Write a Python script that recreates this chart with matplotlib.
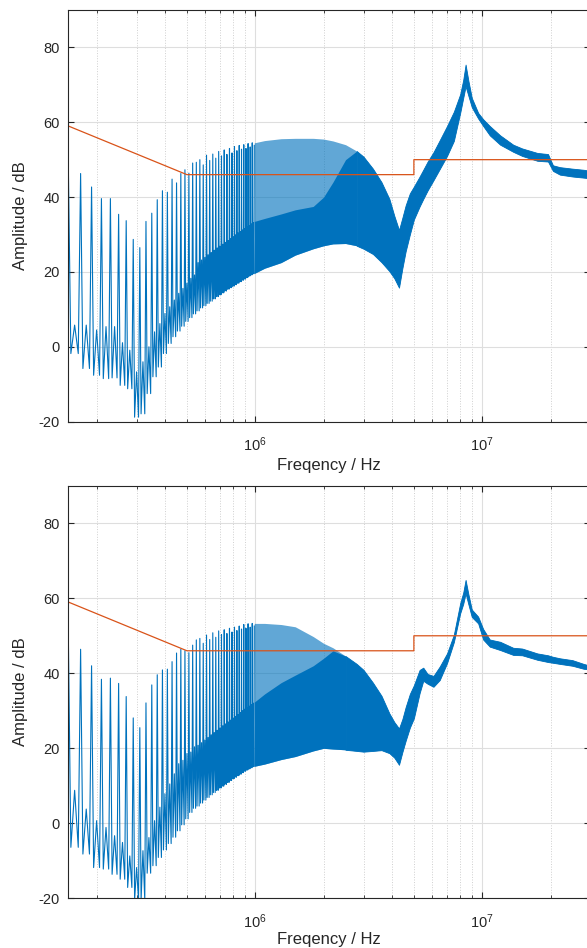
import numpy as np
import matplotlib
matplotlib.use('Agg')
import matplotlib.pyplot as plt
from matplotlib.ticker import LogLocator, NullFormatter, LogFormatterMathtext

plt.rcParams['font.family'] = ['Liberation Sans', 'DejaVu Sans']
plt.rcParams['mathtext.default'] = 'regular'
plt.rcParams['axes.unicode_minus'] = False

# harmonic spikes below 1 MHz (kHz / dB)
spike_khz = [150, 170, 190, 210, 230, 250, 270, 290, 310, 330, 350,
             370, 390, 410, 430, 450, 470, 490, 510, 530, 550,
             570, 590, 610, 630, 650, 670, 690, 710, 730, 750, 770,
             790, 810, 830, 850, 870, 890, 910, 930, 950, 970, 990]
top_spike_db = [49.5, 46.3, 42.7, 39.6, 39.6, 35.4, 33.7, 28.7, 26.5, 33.5, 35.7,
                39.3, 41.7, 41.3, 44.8, 43.8, 46.3, 47.3, 46.4, 49.1, 49.3,
                50.0, 48.6, 51.2, 49.8, 51.5, 50.4, 52.2, 51.0, 52.6, 51.4, 53.0,
                51.8, 53.5, 52.4, 53.8, 52.8, 54.0, 53.0, 54.3, 53.4, 54.5, 53.8]
top_sub_db = [5.8, 5.8, 4.5, 5.4, 5.4, 1.1, -0.9, -6.7, -4.0, 0.0,
              4.0, 6.2, 8.9, 10.7, 12.5, 14.3, 15.6, 17.0, 18.3, 19.2,
              22.5, 23.2, 23.9, 24.6, 25.2, 25.8, 26.4, 26.9, 27.4, 27.9, 28.4,
              28.9, 29.4, 29.9, 30.4, 30.8, 31.2, 31.6, 32.0, 32.4, 32.8, 33.2]
top_trough_db = [-1.8, -5.8, -7.6, -8.5, -8.3, -10.3, -11.2, -18.8, -17.9, -12.5,
                 -8.0, -5.4, -1.8, 0.9, 2.7, 4.2, 5.5, 6.8, 7.8, 8.8,
                 9.6, 10.4, 11.0, 11.6, 12.2, 12.8, 13.4, 13.9, 14.4, 14.9, 15.4,
                 15.8, 16.2, 16.6, 17.0, 17.4, 17.8, 18.1, 18.5, 18.9, 19.2, 19.5]
bot_spike_db = [51.5, 46.4, 42.0, 38.4, 38.7, 37.3, 33.8, 28.1, 25.5, 32.1, 36.9,
                39.6, 40.9, 41.1, 43.1, 45.4, 46.4, 46.0, 45.5, 47.5, 48.9,
                49.3, 48.0, 50.2, 49.0, 50.8, 49.6, 51.3, 50.3, 51.6, 50.6, 52.0,
                51.0, 52.3, 51.4, 52.6, 51.8, 53.0, 52.0, 53.2, 52.3, 53.3, 52.6]
bot_sub_db = [8.8, 3.8, 0.7, -1.1, -3.3, -5.1, -8.7, -11.8, -7.3, -3.8,
              0.7, 4.3, 7.9, 10.5, 13.2, 15.9, 16.8, 18.6, 19.0, 20.4,
              20.8, 21.5, 22.2, 22.9, 23.6, 24.2, 24.8, 25.4, 26.0, 26.5, 27.0,
              27.5, 28.0, 28.5, 29.0, 29.5, 30.0, 30.4, 30.8, 31.2, 31.6, 32.0]
bot_trough_db = [-6.4, -8.2, -11.8, -12.2, -13.6, -14.9, -17.1, -20.5, -20.5, -13.3,
                 -11.3, -9.1, -7.1, -5.4, -3.7, -2.0, -0.4, 1.2, 2.9, 4.0,
                 4.6, 5.4, 6.2, 6.9, 7.6, 8.2, 8.8, 9.4, 9.9, 10.4, 10.9,
                 11.4, 11.9, 12.3, 12.7, 13.1, 13.5, 13.9, 14.2, 14.5, 14.8, 15.1]

# dense part of the spectrum (MHz / dB envelopes)
env_mhz = [0.99, 1.1, 1.3, 1.5, 1.8, 2.0, 2.2, 2.5, 2.8, 3.0,
           3.3, 3.6, 3.9, 4.1, 4.3, 4.45, 4.6, 4.8, 5.0, 5.3, 5.5, 5.75, 6.1, 6.5,
           7.0, 7.5, 8.0, 8.25, 8.45, 8.7, 9.0, 9.6, 10.1, 10.8, 12, 13.7, 15,
           17.5, 19.5, 20.5, 22, 25, 28, 30]
top_upper = [54.5, 55.1, 55.6, 55.7, 55.7, 55.5, 55, 54, 52.3, 50.8,
             47.6, 44, 39.5, 35, 31.2, 34.5, 37.8, 41, 42.8, 45.5, 47.3, 49.5, 52, 55.2,
             59, 62.8, 67.5, 71.3, 75.4, 71, 66.5, 62.5, 60.8, 59, 56.5, 54, 53,
             51.8, 51.5, 48.5, 48, 47.6, 47.3, 47]
top_lower = [19.6, 21, 22.5, 24.5, 26.2, 27, 27.5, 27.6, 27, 26.2,
             24.8, 22.6, 20.2, 18.3, 15.8, 21, 25.5, 30, 34, 37.5, 39.5, 41.8, 44.5, 47.5,
             51, 55, 62.5, 66.5, 69.6, 67, 64, 61, 59, 56.5, 54, 52.1, 51,
             49.7, 49.5, 47, 46, 45.5, 45.2, 45]
top_solid = [33.5, 34.3, 35.5, 36.6, 37.5, 40, 44, 50, 52.3]
bot_upper = [53.3, 53.3, 53, 52.4, 49.8, 48, 46.8, 44.6, 42.5, 40.9,
             37.5, 34, 29.3, 27, 25.3, 27.8, 31, 34.5, 36.8, 40.9, 41.5, 39.8, 39.3, 41.8,
             45.3, 50.3, 58.7, 61.5, 64.9, 61, 57, 55.1, 51.8, 49, 48.4, 46.8, 46.6,
             45.3, 44.8, 44.4, 44, 43.5, 42.5, 42]
bot_lower = [15.2, 15.8, 17, 17.8, 19.3, 20, 19.8, 19.6, 19.3, 19.1,
             19.3, 19.5, 18.7, 17.5, 15.6, 19, 22, 25.5, 28, 34.7, 38, 37.2, 36.4, 38.2,
             42.7, 48.3, 56, 58.5, 61.3, 58.3, 55, 53.3, 49, 47.1, 46.2, 44.9, 44.8,
             43.6, 43, 42.8, 42.5, 42, 41.2, 41]
bot_solid = [32.3, 34.5, 37.5, 39.5, 42, 44, 46, 44.6]

# limit line
limit_hz = [150e3, 500e3, 5e6, 5e6, 30e6]
limit_db = [59, 46, 46, 50, 50]

azul = '#0072BD'
laranja = '#D95319'
cinza = '#262626'


def zigzag(spikes, subs, troughs):
    f = []
    a = []
    for i in range(len(subs)):
        f0 = spike_khz[i]
        df = spike_khz[i + 1] - f0
        f += [f0, f0 + 0.2 * df, f0 + 0.5 * df, f0 + 0.8 * df]
        a += [spikes[i], troughs[i], subs[i], troughs[i]]
    f.append(spike_khz[-1])
    a.append(spikes[-1])
    return np.array(f) * 1e3, a


def desenhar(ax, spikes, subs, troughs, upper, lower, solid, pad_x):
    f_mhz = np.array(env_mhz) * 1e6
    n = len(solid)
    ax.fill_between(f_mhz, lower, upper, color=azul, alpha=0.62, lw=0)
    ax.fill_between(f_mhz[:n], lower[:n], solid, color=azul, lw=0)
    ax.fill_between(f_mhz[n - 1:], lower[n - 1:], upper[n - 1:], color=azul, lw=0.6, edgecolor=azul)
    f, a = zigzag(spikes, subs, troughs)
    ax.plot(f, a, color=azul, lw=0.8)
    ax.plot(limit_hz, limit_db, color=laranja, lw=0.9)

    ax.set_xscale('log')
    ax.set_xlim(150e3, 30e6)
    ax.set_ylim(-20, 90)
    ax.set_yticks([-20, 0, 20, 40, 60, 80])
    ax.xaxis.set_major_locator(LogLocator(base=10))
    ax.xaxis.set_major_formatter(LogFormatterMathtext())
    ax.xaxis.set_minor_locator(LogLocator(base=10, subs=range(2, 10)))
    ax.xaxis.set_minor_formatter(NullFormatter())
    ax.set_axisbelow(True)
    ax.grid(True, which='major', color='#dedede', lw=0.8)
    ax.grid(True, which='minor', axis='x', color='#cfcfcf', lw=0.7, ls=':')
    ax.tick_params(which='both', direction='in', top=True, right=True, colors=cinza, labelsize=10.5)
    ax.tick_params(which='major', length=4)
    ax.tick_params(which='minor', length=2)
    ax.tick_params(axis='x', pad=10)
    ax.tick_params(axis='y', pad=6)
    for s in ax.spines.values():
        s.set_color(cinza)
        s.set_linewidth(0.8)
    ax.set_xlabel('Freqency / Hz', fontsize=12, color=cinza, labelpad=pad_x)
    ax.set_ylabel('Amplitude / dB', fontsize=12, color=cinza, labelpad=8)


fig = plt.figure(figsize=(5.87, 9.48), dpi=100)
ax1 = fig.add_axes([0.1163, 0.5552, 0.8896, 0.4343])
ax2 = fig.add_axes([0.1163, 0.0524, 0.8896, 0.4352])
desenhar(ax1, top_spike_db, top_sub_db, top_trough_db, top_upper, top_lower, top_solid, 3)
desenhar(ax2, bot_spike_db, bot_sub_db, bot_trough_db, bot_upper, bot_lower, bot_solid, 0.5)
fig.savefig('out.png', dpi=100)
